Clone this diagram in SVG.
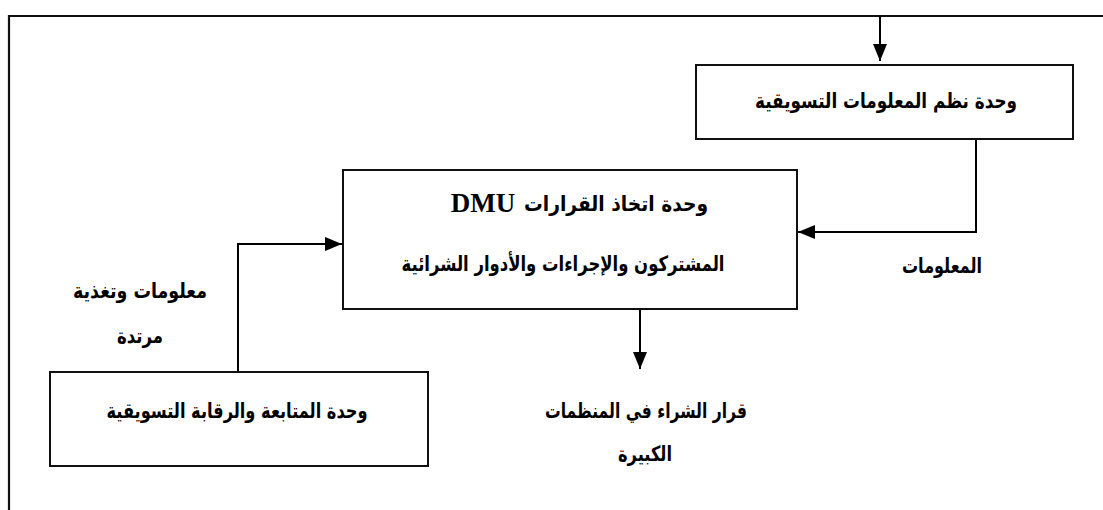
<svg xmlns="http://www.w3.org/2000/svg" width="1103" height="510" viewBox="0 0 1103 510">
  <style>
    .frame { fill: none; stroke: #111; stroke-width: 2.2; }
    .box { fill: #fff; stroke: #111; stroke-width: 2; }
    .wire { fill: none; stroke: #000; stroke-width: 2; }
    .ar { font-family: "DejaVu Sans", "Noto Sans", sans-serif; font-weight: bold; font-size: 21px; fill: #000; direction: rtl; unicode-bidi: embed; }
    .lat { font-family: "Liberation Serif", serif; font-weight: bold; font-size: 27px; fill: #000; }
  </style>
  <defs>
    <marker id="head" viewBox="0 0 17 14" refX="17" refY="7" markerWidth="17" markerHeight="14" markerUnits="userSpaceOnUse" orient="auto">
      <path d="M0,0 L17,7 L0,14 Z" fill="#000"/>
    </marker>
  </defs>

  <!-- outer frame (top and left edges) -->
  <path class="frame" d="M9,510 V16 H1103"/>

  <g id="connectors">
    <path class="wire" d="M880,16 V61" marker-end="url(#head)"/>
    <path class="wire" d="M976,139 V232 H798" marker-end="url(#head)"/>
    <path class="wire" d="M640,309 V369" marker-end="url(#head)"/>
    <path class="wire" d="M238,372 V244 H342" marker-end="url(#head)"/>
  </g>

  <g id="mis">
    <rect class="box" x="696" y="65" width="377" height="74"/>
    <text class="ar" x="886" y="108" text-anchor="middle" textLength="262" lengthAdjust="spacingAndGlyphs">وحدة نظم المعلومات التسويقية</text>
  </g>

  <g id="dmu">
    <rect class="box" x="343" y="170" width="454" height="139"/>
    <text class="ar" x="616" y="211" text-anchor="middle" textLength="184" lengthAdjust="spacingAndGlyphs">وحدة اتخاذ القرارات</text>
    <text class="lat" x="483" y="212" text-anchor="middle">DMU</text>
    <text class="ar" x="563" y="271" text-anchor="middle" textLength="323" lengthAdjust="spacingAndGlyphs">المشتركون والإجراءات والأدوار الشرائية</text>
  </g>

  <g id="control">
    <rect class="box" x="50" y="372" width="378" height="94"/>
    <text class="ar" x="237" y="418" text-anchor="middle" textLength="261" lengthAdjust="spacingAndGlyphs">وحدة المتابعة والرقابة التسويقية</text>
  </g>

  <g id="info-label">
    <text class="ar" x="942" y="273" text-anchor="middle" textLength="80" lengthAdjust="spacingAndGlyphs">المعلومات</text>
  </g>

  <g id="feedback-label">
    <text class="ar" x="140" y="298" text-anchor="middle" textLength="134" lengthAdjust="spacingAndGlyphs">معلومات وتغذية</text>
    <text class="ar" x="140" y="343" text-anchor="middle" textLength="46" lengthAdjust="spacingAndGlyphs">مرتدة</text>
  </g>

  <g id="decision">
    <text class="ar" x="646" y="418" text-anchor="middle" textLength="202" lengthAdjust="spacingAndGlyphs">قرار الشراء في المنظمات</text>
    <text class="ar" x="645" y="461" text-anchor="middle" textLength="54" lengthAdjust="spacingAndGlyphs">الكبيرة</text>
  </g>
</svg>
